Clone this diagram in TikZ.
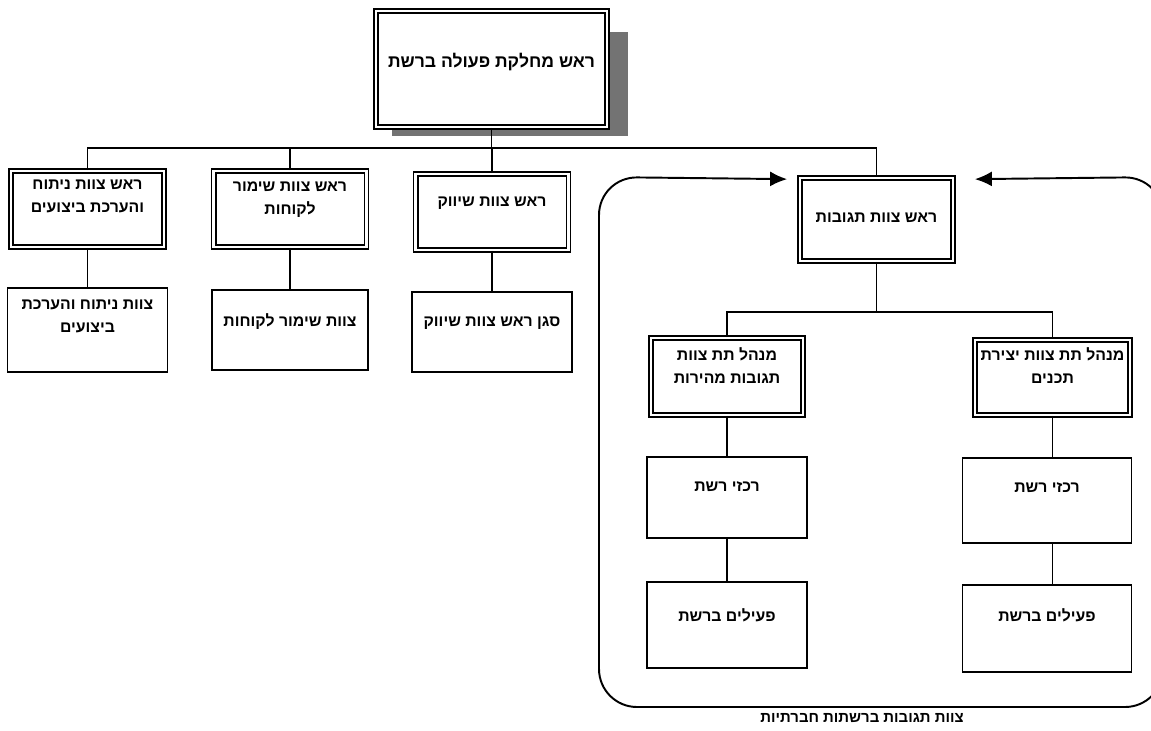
\documentclass[tikz,border=0pt]{standalone}
\usepackage{fontspec}
\newfontfamily\hebfont[Script=Hebrew]{Liberation Sans}
\TeXXeTstate=1
\usetikzlibrary{arrows.meta,calc,backgrounds}

\tikzset{
  lead/.style={draw, double, double distance=1.4pt, line width=1pt, fill=white,
    minimum width=3.06cm, minimum height=1.52cm},
  unit/.style={draw, line width=1pt, minimum width=3.2cm, minimum height=1.64cm},
  tx/.style={font=\hebfont\bfseries\fontsize{9}{13}\selectfont, align=center, yshift=0.2cm},
  link/.style={line width=0.9pt},
  >={Latex[length=0.34cm,width=0.3cm]},
}

\begin{document}
\begin{tikzpicture}[x=0.02cm, y=-0.02cm]
    \useasboundingbox (0,0) rectangle (1151,730);

    % head of the department, with its shadow
    \node[lead, minimum width=4.62cm, minimum height=2.32cm,
      label={[tx, yshift=-0.06cm, font=\hebfont\bfseries\fontsize{10}{13}\selectfont]center:\beginR ראש מחלקת פעולה ברשת\endR}]
      (top) at (491.5,69) {};
    \begin{pgfonlayer}{background}
      \fill[black!55] ($(top.south west)+(17,8)$) rectangle ($(top.north east)+(20,22)$);
    \end{pgfonlayer}

    % team heads
    \node[lead, label={[tx, yshift=0.06cm]center:\beginR ראש צוות ניתוח\endR\\\beginR והערכת ביצועים\endR}]
      (A) at (87.5,209) {};
    \node[lead, label={[tx, yshift=-0.01cm]center:\beginR ראש צוות שימור\endR\\\beginR לקוחות\endR}]
      (B) at (290,209) {};
    \node[lead, label={[tx, yshift=-0.02cm]center:\beginR ראש צוות שיווק\endR}]
      (C) at (492,212) {};
    \node[lead, minimum height=1.66cm, label={[tx, yshift=-0.17cm]center:\beginR ראש צוות תגובות\endR}]
      (D) at (876.5,219.5) {};

    % teams under the left heads
    \node[unit, minimum height=1.68cm, label={[tx, yshift=0.07cm]center:\beginR צוות ניתוח והערכת\endR\\\beginR ביצועים\endR}]
      (A2) at (87.5,330) {};
    \node[unit, minimum width=3.12cm, minimum height=1.6cm, label={[tx, yshift=-0.04cm]center:\beginR צוות שימור לקוחות\endR}]
      (B2) at (290,330) {};
    \node[unit, minimum height=1.6cm, label={[tx, yshift=-0.02cm]center:\beginR סגן ראש צוות שיווק\endR}]
      (C2) at (492,332) {};

    % sub-team heads
    \node[lead, minimum width=3.04cm, minimum height=1.54cm, label={[tx, yshift=0.02cm]center:\beginR מנהל תת צוות\endR\\\beginR תגובות מהירות\endR}]
      (E) at (727,376.5) {};
    \node[lead, minimum width=3.1cm, minimum height=1.5cm, label={[tx, yshift=0.04cm]center:\beginR מנהל תת צוות יצירת\endR\\\beginR תכנים\endR}]
      (F) at (1052.5,377.5) {};

    % coordinators and activists
    \node[unit, minimum height=1.62cm, label={[tx, yshift=0.01cm]center:\beginR רכזי רשת\endR}]
      (E2) at (727,497.5) {};
    \node[unit, minimum width=3.38cm, minimum height=1.7cm, label={[tx, yshift=0.05cm]center:\beginR רכזי רשת\endR}]
      (F2) at (1047,500.5) {};
    \node[unit, minimum height=1.72cm, label={[tx, yshift=0cm]center:\beginR פעילים ברשת\endR}]
      (E3) at (727,625) {};
    \node[unit, minimum width=3.38cm, minimum height=1.74cm, label={[tx, yshift=0.07cm]center:\beginR פעילים ברשת\endR}]
      (F3) at (1047,628.5) {};

    % upper bus
    \coordinate (bus) at (0,148);
    \draw[link] (top.south) -- (top.south |- bus);
    \draw[link] (A.north) -- (A.north |- bus) -- (D.north |- bus) -- (D.north);
    \draw[link] (B.north) -- (B.north |- bus);
    \draw[link] (C.north) -- (C.north |- bus);
    \draw[link] (A.south) -- (A2.north);
    \draw[link] (B.south) -- (B2.north);
    \draw[link] (C.south) -- (C2.north);

    % lower bus
    \coordinate (fork) at (0,312);
    \draw[link] (D.south) -- (D.south |- fork);
    \draw[link] (E.north) -- (E.north |- fork) -- (F.north |- fork) -- (F.north);
    \draw[link] (E.south) -- (E2.north);
    \draw[link] (E2.south) -- (E3.north);
    \draw[link] (F.south) -- (F.south |- F2.north);
    \draw[link] (F.south |- F2.south) -- (F.south |- F3.north);

    % frame of the response team
    \draw[link, line width=1.1pt, rounded corners=0.76cm, <->]
      ($(D.north west)+(-12,2)$) -- (599,177) -- (599,707) -- (1163,707) -- (1163,177)
      -- ($(D.north east)+(21,2)$);
    \node[font=\hebfont\bfseries\fontsize{8.5}{10}\selectfont] (frameT) at (862,718)
      {\beginR צוות תגובות ברשתות חברתיות\endR};
\end{tikzpicture}
\end{document}
